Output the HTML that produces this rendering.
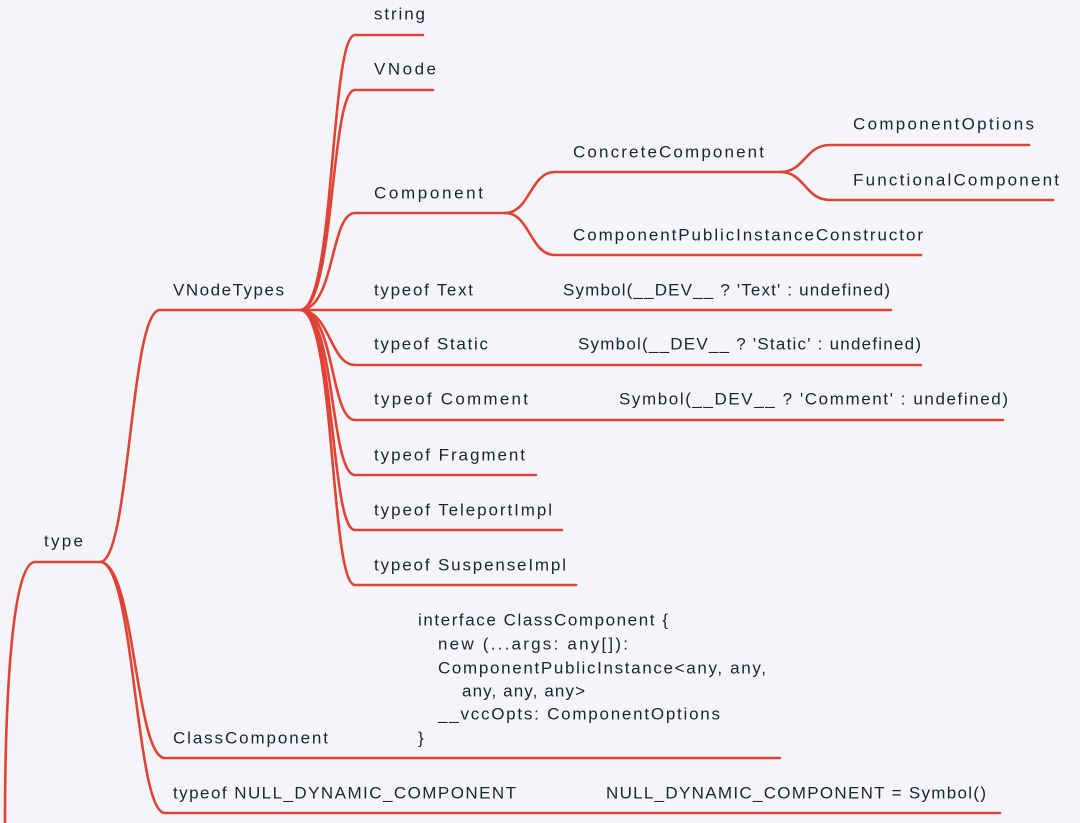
<!DOCTYPE html>
<html><head><meta charset="utf-8"><style>
html,body{margin:0;padding:0;background:#f4f5f9;}
svg{display:block;}
text{font-family:"Liberation Sans",sans-serif;font-size:17px;fill:#1f2233;dominant-baseline:central;}
path{fill:none;stroke:#df4336;stroke-width:2.6;stroke-linecap:round;}
</style></head><body>
<svg width="1080" height="823" viewBox="0 0 1080 823">
<!-- root -->
<path d="M5 823 C5 700 12 562 35 562 L100 562"/>
<!-- type children -->
<path d="M100 562 C130 562 130 310 160 310 L300 310"/>
<path d="M100 562 C135 562 135 758 165 758 L780 758"/>
<path d="M100 562 C135 562 135 813 165 813 L1000 813"/>
<!-- VNodeTypes children -->
<path d="M300 310 C335 310 330 35 355 35 L423 35"/>
<path d="M300 310 C335 310 330 90 355 90 L433 90"/>
<path d="M300 310 C335 310 330 213 355 213 L505 213"/>
<path d="M300 310 L891 310"/>
<path d="M300 310 C330 310 330 365 355 365 L921 365"/>
<path d="M300 310 C335 310 330 420 355 420 L1003 420"/>
<path d="M300 310 C335 310 330 475 355 475 L536 475"/>
<path d="M300 310 C335 310 330 530 355 530 L562 530"/>
<path d="M300 310 C335 310 330 585 355 585 L576 585"/>
<!-- Component children -->
<path d="M505 213 C530 213 530 172 555 172 L780 172"/>
<path d="M505 213 C530 213 530 255 555 255 L921 255"/>
<!-- ConcreteComponent children -->
<path d="M780 172 C805 172 805 145 830 145 L1029 145"/>
<path d="M780 172 C805 172 805 200 830 200 L1053 200"/>

<text x="44" y="541" textLength="39">type</text>
<text x="173" y="290" textLength="111">VNodeTypes</text>
<text x="374" y="14" textLength="51">string</text>
<text x="374" y="69" textLength="62">VNode</text>
<text x="374" y="193" textLength="109">Component</text>
<text x="374" y="290" textLength="99">typeof Text</text>
<text x="374" y="344" textLength="114">typeof Static</text>
<text x="374" y="399" textLength="154">typeof Comment</text>
<text x="374" y="455" textLength="151">typeof Fragment</text>
<text x="374" y="510" textLength="178">typeof TeleportImpl</text>
<text x="374" y="565" textLength="192">typeof SuspenseImpl</text>
<text x="563" y="290" textLength="327">Symbol(__DEV__ ? 'Text' : undefined)</text>
<text x="578" y="344" textLength="343">Symbol(__DEV__ ? 'Static' : undefined)</text>
<text x="619" y="399" textLength="389">Symbol(__DEV__ ?  'Comment' : undefined)</text>
<text x="573" y="152" textLength="191">ConcreteComponent</text>
<text x="573" y="235" textLength="350">ComponentPublicInstanceConstructor</text>
<text x="853" y="124" textLength="181">ComponentOptions</text>
<text x="853" y="180" textLength="206">FunctionalComponent</text>
<text x="173" y="738" textLength="155">ClassComponent</text>
<text x="418" y="620" textLength="250">interface ClassComponent {</text>
<text x="438" y="644" textLength="190">new (...args: any[]):</text>
<text x="438" y="668" textLength="328">ComponentPublicInstance&lt;any, any,</text>
<text x="462" y="691" textLength="123">any, any, any&gt;</text>
<text x="438" y="714" textLength="282">__vccOpts: ComponentOptions</text>
<text x="418" y="738">}</text>
<text x="173" y="793" textLength="343">typeof NULL_DYNAMIC_COMPONENT</text>
<text x="606" y="793" textLength="380">NULL_DYNAMIC_COMPONENT = Symbol()</text>
</svg>
</body></html>
